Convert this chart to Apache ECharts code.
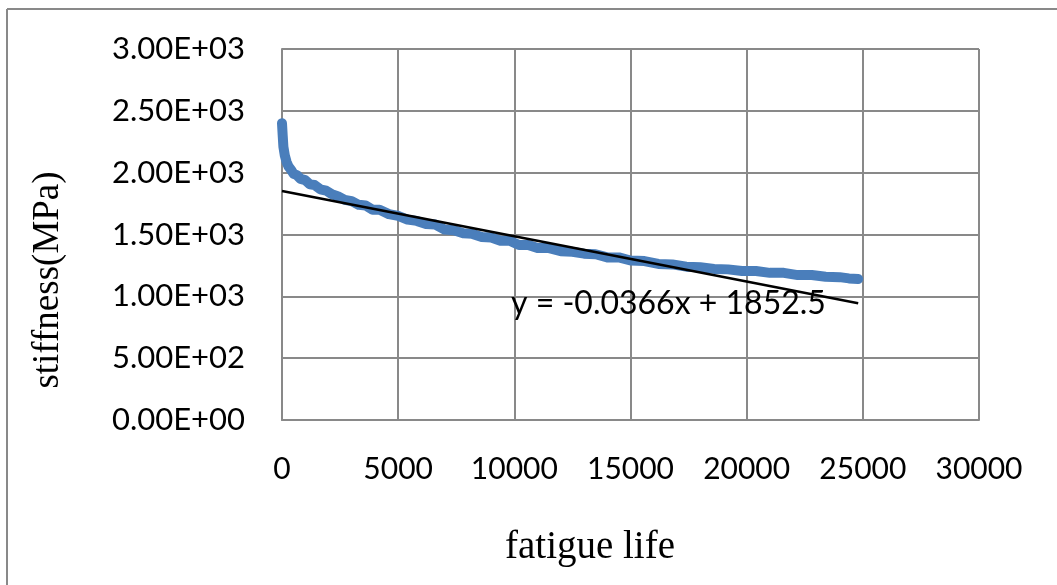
<!DOCTYPE html>
<html>
<head>
<meta charset="utf-8">
<script src="https://cdn.jsdelivr.net/npm/echarts@6/dist/echarts.min.js"></script>
<style>
  html, body { margin: 0; padding: 0; background: #fff; }
  #chart { width: 1057px; height: 585px; }
</style>
</head>
<body>
<div id="chart"></div>
<script>
// 刚度随疲劳寿命变化
const lifeX = [0, 30, 60, 120, 200, 280, 380, 500, 640, 800, 1000, 1200, 1400, 1650, 1900, 2150, 2400, 2700,
  3000, 3300, 3600, 3900, 4200, 4600, 5000, 5400, 5800, 6200, 6600, 7000, 7400, 7800, 8200, 8600, 9000,
  9400, 9800, 10200, 10600, 11000, 11500, 12000, 12500, 13000, 13500, 14000, 14500, 15000, 15600, 16200,
  16800, 17400, 18000, 18600, 19200, 19800, 20400, 21000, 21600, 22200, 22800, 23400, 24000, 24400, 24800]
const stiffY = [2400, 2300, 2210, 2140, 2085, 2050, 2025, 1990, 1980, 1950, 1940, 1905, 1900, 1865, 1855, 1825, 1810, 1780,
  1770, 1740, 1735, 1700, 1700, 1665, 1650, 1620, 1610, 1585, 1580, 1540, 1535, 1510, 1505, 1480, 1475,
  1450, 1450, 1415, 1415, 1390, 1390, 1365, 1360, 1345, 1340, 1315, 1315, 1290, 1285, 1262,
  1258, 1240, 1235, 1222, 1218, 1205, 1205, 1190, 1190, 1172, 1172, 1158, 1155, 1145, 1140]

// 线性趋势线 y = -0.0366x + 1852.5
const trendX = [0, 24800]
const trendY = [1852.5, 944.8]
const trendText = 'y = -0.0366x + 1852.5'

const xTicks = { min: 0, max: 30000, interval: 5000 }
const yTicks = { min: 0, max: 3000, interval: 500 }

const chart = echarts.init(document.querySelector('#chart'))
const gridColor = '#898989'

const option = {
  animation: false,
  backgroundColor: '#fff',
  grid: { left: 282, top: 49, right: 78, bottom: 165, containLabel: false },
  xAxis: {
    type: 'value',
    min: xTicks.min,
    max: xTicks.max,
    interval: xTicks.interval,
    axisLine: { show: true, lineStyle: { color: gridColor, width: 2 } },
    axisTick: { show: false },
    splitLine: { show: true, lineStyle: { color: gridColor, width: 2 } },
    axisLabel: {
      margin: 34,
      color: '#000',
      fontFamily: 'Lato',
      fontSize: 30,
      formatter: v => String(v)
    }
  },
  yAxis: {
    type: 'value',
    min: yTicks.min,
    max: yTicks.max,
    interval: yTicks.interval,
    axisLine: { show: true, lineStyle: { color: gridColor, width: 2 } },
    axisTick: { show: false },
    splitLine: { show: true, lineStyle: { color: gridColor, width: 2 } },
    axisLabel: {
      margin: 37,
      color: '#000',
      fontFamily: 'Lato',
      fontSize: 31,
      formatter: v => {
        const [m, e] = v.toExponential(2).split('e')
        const n = Math.abs(parseInt(e))
        return m + 'E' + (e[0] === '-' ? '-' : '+') + (n < 10 ? '0' + n : n)
      }
    }
  },
  series: [
    {
      type: 'line',
      data: lifeX.map((x, i) => [x, stiffY[i]]),
      showSymbol: false,
      lineStyle: { color: '#4a7ebb', width: 10, cap: 'round', join: 'round' },
      z: 2
    },
    {
      type: 'line',
      data: trendX.map((x, i) => [x, trendY[i]]),
      showSymbol: false,
      lineStyle: { color: '#000', width: 2.5 },
      z: 3
    }
  ],
  graphic: [
    { type: 'line', shape: { x1: 7, y1: 9, x2: 1057, y2: 9 }, style: { stroke: gridColor, lineWidth: 2 } },
    { type: 'line', shape: { x1: 7, y1: 9, x2: 7, y2: 585 }, style: { stroke: gridColor, lineWidth: 2 } },
    {
      type: 'text', left: 511, top: 288, z: 10,
      style: { text: trendText, fill: '#000', font: '32px Lato' }
    },
    {
      type: 'text', x: 590, y: 548,
      style: { text: 'fatigue life', fill: '#000', font: '39px "Liberation Serif"', align: 'center', verticalAlign: 'middle' }
    },
    {
      type: 'text', x: 48, y: 280, rotation: Math.PI / 2,
      style: { text: 'stiffness(MPa)', fill: '#000', font: '37px "Liberation Serif"', align: 'center', verticalAlign: 'middle' }
    }
  ]
}
chart.setOption(option)
window.addEventListener('resize', function () {
  chart.resize()
})
</script>
</body>
</html>
